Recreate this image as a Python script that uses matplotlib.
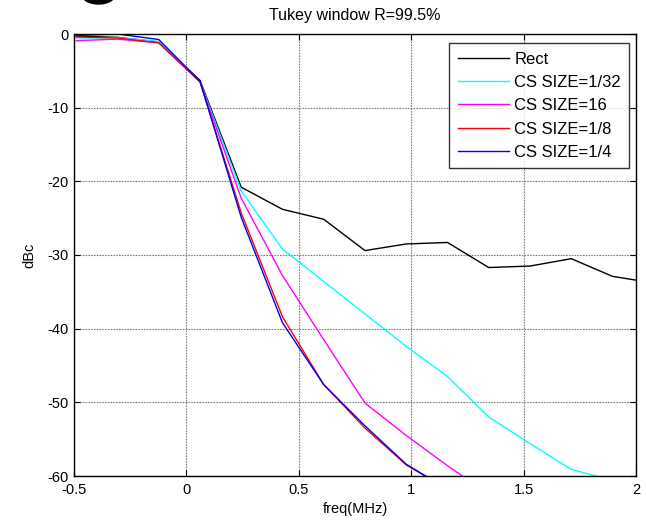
import numpy as np
import matplotlib.pyplot as plt
from matplotlib.patches import Ellipse

plt.rcParams['font.family'] = ['Liberation Sans', 'DejaVu Sans']
plt.rcParams['axes.unicode_minus'] = False

# frequency bins (MHz)
freq = [-0.49, -0.3065, -0.123, 0.0605, 0.244, 0.4275, 0.611, 0.7945,
        0.978, 1.1615, 1.345, 1.5285, 1.712, 1.8955, 2.079]

rect = [-0.3, -0.45, -1.1, -6.3, -20.8, -23.8, -25.15, -29.4,
        -28.5, -28.3, -31.7, -31.5, -30.5, -32.9, -33.8]
cs_32 = [-0.55, -0.5, -1.0, -6.5, -21.3, -29.2, -33.6, -38.0,
         -42.4, -46.5, -52.0, -55.6, -59.1, -60.6, -63.0]
cs_16 = [-0.9, -0.7, -1.2, -6.5, -22.3, -32.8, -41.5, -50.1,
         -54.5, -58.6, -62.5, -66.0, -69.0, -72.0, -75.0]
cs_8 = [-0.4, -0.55, -1.2, -6.5, -24.3, -38.4, -47.6, -53.5,
        -58.5, -61.8, -65.0, -68.0, -71.0, -74.0, -77.0]
cs_4 = [-0.2, 0.0, -0.75, -6.4, -24.9, -39.2, -47.6, -53.2,
        -58.4, -61.8, -65.0, -68.0, -71.0, -74.0, -77.0]

series = [
    ("Rect", rect, "black"),
    ("CS SIZE=1/32", cs_32, "cyan"),
    ("CS SIZE=16", cs_16, "magenta"),
    ("CS SIZE=1/8", cs_8, "red"),
    ("CS SIZE=1/4", cs_4, "blue"),
]

fig = plt.figure(figsize=(6.46, 5.23), dpi=100)
ax = fig.add_axes([74 / 646, 47 / 523, 562 / 646, 442 / 523])

for name, vals, col in series:
    ax.plot(freq, vals, color=col, lw=1.0, label=name)

ax.set_xlim(-0.5, 2)
ax.set_ylim(-60, 0)
ax.set_xticks([-0.5, 0, 0.5, 1, 1.5, 2])
ax.set_xticklabels(["-0.5", "0", "0.5", "1", "1.5", "2"])
ax.set_yticks([-60, -50, -40, -30, -20, -10, 0])
ax.grid(True, color="#808080", linestyle=(0, (1.5, 1)), lw=0.8)
ax.tick_params(direction="in", top=True, right=True, length=4,
               labelsize=10.5)
ax.tick_params(axis="x", pad=5)
ax.tick_params(axis="y", pad=4)
for s in ax.spines.values():
    s.set_linewidth(1.0)

ax.set_title("Tukey window R=99.5%", fontsize=11.5, pad=10)
ax.set_xlabel("freq(MHz)", fontsize=10.5, labelpad=4)
ax.set_ylabel("dBc", fontsize=10.5, labelpad=8)

leg = ax.legend(loc="upper right", bbox_to_anchor=(629.3 / 646, 479.7 / 523),
                bbox_transform=fig.transFigure, fontsize=12, frameon=True,
                fancybox=False, edgecolor="black", handlelength=3.1,
                handletextpad=0.3, labelspacing=0.5, borderpad=0.5,
                borderaxespad=0)
leg.get_frame().set_linewidth(1.0)

# stray black shape clipped at the top edge
blob = Ellipse((98.5 / 646, 529 / 523), 34 / 646, 20 / 523,
               transform=fig.transFigure, color="black", clip_on=False)
fig.patches.append(blob)

fig.savefig("out.png", dpi=100)
